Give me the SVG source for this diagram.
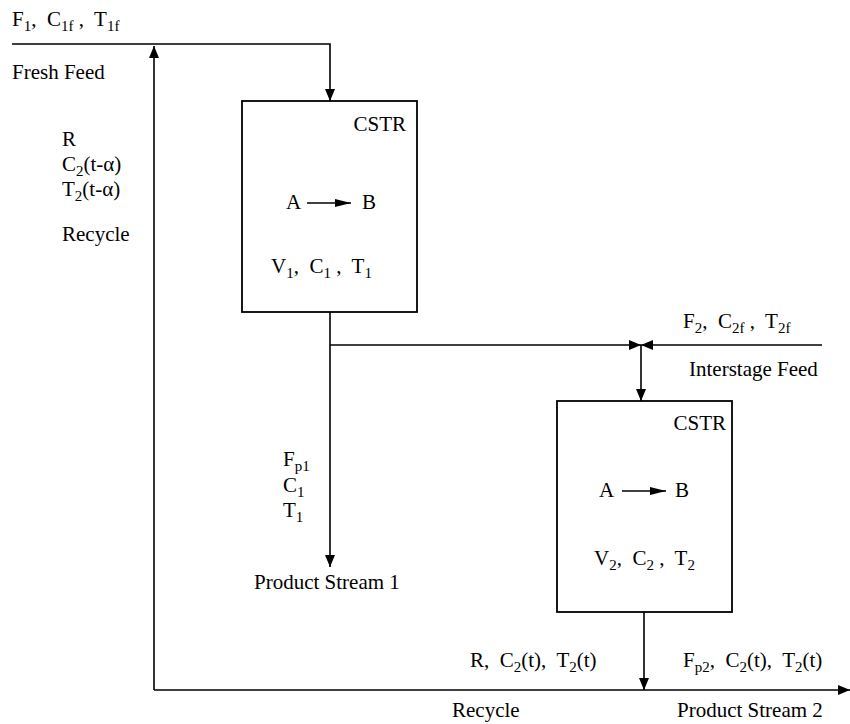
<svg xmlns="http://www.w3.org/2000/svg" width="850" height="724" viewBox="0 0 850 724">
<defs>
<style>
text{font-family:"Liberation Serif","Times New Roman",serif;font-size:21px;fill:#000}
.s{font-size:15px}
.ln{fill:none;stroke:#000;stroke-width:1.6}
.box{fill:#fff;stroke:#000;stroke-width:1.8}
</style>
<marker id="ah" markerUnits="userSpaceOnUse" markerWidth="12" markerHeight="10" refX="12" refY="5" orient="auto">
<path d="M0,0 L12,5 L0,10 Z" fill="#000"/>
</marker>
<marker id="rx" markerUnits="userSpaceOnUse" markerWidth="16" markerHeight="8" refX="16" refY="4" orient="auto">
<path d="M0,0 L16,4 L0,8 Z" fill="#000"/>
</marker>
</defs>
<rect width="850" height="724" fill="#fff"/>
<g id="connectors">
<polyline class="ln" points="12,44 330,44 330,101" marker-end="url(#ah)"/>
<polyline class="ln" points="154,690 154,46" marker-end="url(#ah)"/>
<line class="ln" x1="330" y1="312" x2="330" y2="567" marker-end="url(#ah)"/>
<line class="ln" x1="330" y1="345" x2="641" y2="345" marker-end="url(#ah)"/>
<line class="ln" x1="822" y1="345" x2="641" y2="345" marker-end="url(#ah)"/>
<line class="ln" x1="641" y1="345" x2="641" y2="401" marker-end="url(#ah)"/>
<line class="ln" x1="644" y1="612" x2="644" y2="690" marker-end="url(#ah)"/>
<line class="ln" x1="154" y1="690" x2="850" y2="690" marker-end="url(#ah)"/>
</g>
<g id="cstr1">
<rect class="box" x="242" y="101" width="175" height="211"/>
<text x="406" y="131" text-anchor="end">CSTR</text>
<text x="286" y="209">A</text>
<line class="ln" x1="307" y1="203" x2="351" y2="203" marker-end="url(#rx)"/>
<text x="362" y="209">B</text>
<text x="271" y="273">V<tspan class="s" dy="5">1</tspan><tspan dy="-5">,&#160; C</tspan><tspan class="s" dy="5">1</tspan><tspan dy="-5"> ,&#160; T</tspan><tspan class="s" dy="5">1</tspan></text>
</g>
<g id="cstr2">
<rect class="box" x="557" y="401" width="175" height="211"/>
<text x="726" y="430" text-anchor="end">CSTR</text>
<text x="599" y="497">A</text>
<line class="ln" x1="622" y1="491" x2="666" y2="491" marker-end="url(#rx)"/>
<text x="675" y="497">B</text>
<text x="594" y="565">V<tspan class="s" dy="5">2</tspan><tspan dy="-5">,&#160; C</tspan><tspan class="s" dy="5">2</tspan><tspan dy="-5"> ,&#160; T</tspan><tspan class="s" dy="5">2</tspan></text>
</g>
<g id="fresh-feed">
<text x="12" y="26">F<tspan class="s" dy="5">1</tspan><tspan dy="-5">,&#160; C</tspan><tspan class="s" dy="5">1f</tspan><tspan dy="-5"> ,&#160; T</tspan><tspan class="s" dy="5">1f</tspan></text>
<text x="12" y="79">Fresh Feed</text>
</g>
<g id="recycle-in">
<text x="62" y="146">R</text>
<text x="62" y="171">C<tspan class="s" dy="5">2</tspan><tspan dy="-5">(t-α)</tspan></text>
<text x="62" y="196">T<tspan class="s" dy="5">2</tspan><tspan dy="-5">(t-α)</tspan></text>
<text x="62" y="241">Recycle</text>
</g>
<g id="interstage-feed">
<text x="683" y="328">F<tspan class="s" dy="5">2</tspan><tspan dy="-5">,&#160; C</tspan><tspan class="s" dy="5">2f</tspan><tspan dy="-5"> ,&#160; T</tspan><tspan class="s" dy="5">2f</tspan></text>
<text x="689" y="376">Interstage Feed</text>
</g>
<g id="product-1">
<text x="283" y="466">F<tspan class="s" dy="5">p1</tspan></text>
<text x="283" y="492">C<tspan class="s" dy="5">1</tspan></text>
<text x="283" y="517">T<tspan class="s" dy="5">1</tspan></text>
<text x="254" y="589">Product Stream 1</text>
</g>
<g id="recycle-out">
<text x="470" y="667">R,&#160; C<tspan class="s" dy="5">2</tspan><tspan dy="-5">(t),&#160; T</tspan><tspan class="s" dy="5">2</tspan><tspan dy="-5">(t)</tspan></text>
<text x="452" y="717">Recycle</text>
</g>
<g id="product-2">
<text x="683" y="667">F<tspan class="s" dy="5">p2</tspan><tspan dy="-5">,&#160; C</tspan><tspan class="s" dy="5">2</tspan><tspan dy="-5">(t),&#160; T</tspan><tspan class="s" dy="5">2</tspan><tspan dy="-5">(t)</tspan></text>
<text x="677" y="717">Product Stream 2</text>
</g>
</svg>
